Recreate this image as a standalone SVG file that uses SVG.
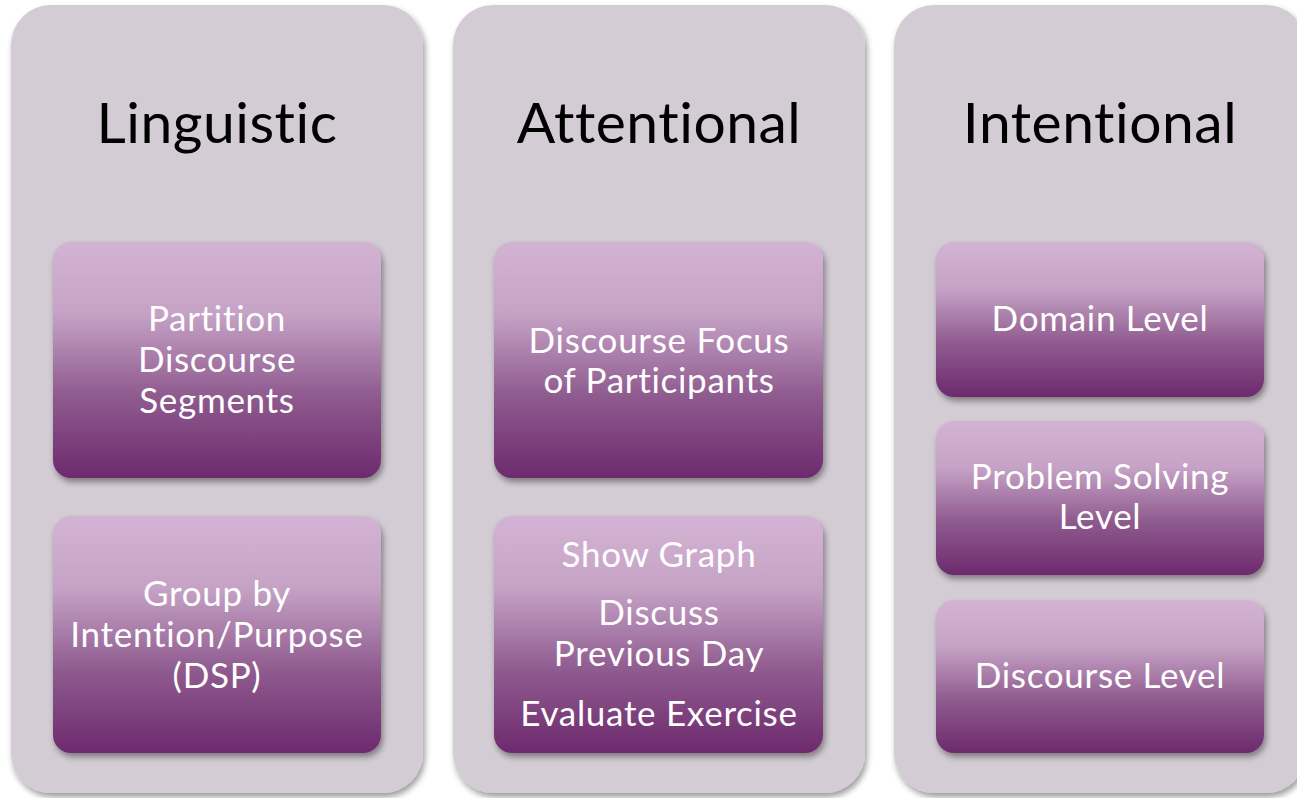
<svg xmlns="http://www.w3.org/2000/svg" width="1297" height="798" viewBox="0 0 1297 798">
<style>
.col{fill:#d3ccd4;}
.box{fill:url(#g);}
.h{font-family:Lato,"Open Sans",sans-serif;font-size:57px;fill:#000;text-anchor:middle;font-variant-ligatures:none;letter-spacing:0.5px;}
.t{font-family:Lato,"Open Sans",sans-serif;font-size:35px;fill:#fff;text-anchor:middle;font-variant-ligatures:none;letter-spacing:0.7px;}
</style>
<defs>
<linearGradient id="g" x1="0" y1="0" x2="0" y2="1">
<stop offset="0" stop-color="#d3b3d3"/>
<stop offset="0.3" stop-color="#c6a3c6"/>
<stop offset="0.65" stop-color="#8f5b8f"/>
<stop offset="1" stop-color="#6d2a6d"/>
</linearGradient>
<filter id="s" x="-10%" y="-10%" width="120%" height="120%">
<feGaussianBlur in="SourceAlpha" stdDeviation="3"/>
<feOffset dx="2" dy="4" result="b"/>
<feComponentTransfer><feFuncA type="linear" slope="0.4"/></feComponentTransfer>
<feMerge><feMergeNode/><feMergeNode in="SourceGraphic"/></feMerge>
</filter>
</defs>
<rect width="1297" height="798" fill="#fff"/>
<g id="col-linguistic">
<rect class="col" x="11" y="5" width="412" height="788" rx="40" filter="url(#s)"/>
<text class="h" x="217" y="143">Linguistic</text>
</g>
<g id="col-attentional">
<rect class="col" x="453" y="5" width="412" height="788" rx="40" filter="url(#s)"/>
<text class="h" x="659" y="143">Attentional</text>
</g>
<g id="col-intentional">
<rect class="col" x="894" y="5" width="412" height="788" rx="40" filter="url(#s)"/>
<text class="h" x="1100" y="143">Intentional</text>
</g>
<g id="n-partition">
<rect class="box" x="53" y="242" width="328" height="236" rx="18" filter="url(#s)"/>
<text class="t" x="217" y="331">Partition</text>
<text class="t" x="217" y="372">Discourse</text>
<text class="t" x="217" y="413">Segments</text>
</g>
<g id="n-group">
<rect class="box" x="53" y="516" width="328" height="237" rx="18" filter="url(#s)"/>
<text class="t" x="217" y="606">Group by</text>
<text class="t" x="217" y="647">Intention/Purpose</text>
<text class="t" x="217" y="688">(DSP)</text>
</g>
<g id="n-focus">
<rect class="box" x="494" y="242" width="329" height="236" rx="18" filter="url(#s)"/>
<text class="t" x="659" y="353">Discourse Focus</text>
<text class="t" x="659" y="393">of Participants</text>
</g>
<g id="n-show">
<rect class="box" x="494" y="516" width="329" height="237" rx="18" filter="url(#s)"/>
<text class="t" x="659" y="567">Show Graph</text>
<text class="t" x="659" y="625">Discuss</text>
<text class="t" x="659" y="666">Previous Day</text>
<text class="t" x="659" y="726">Evaluate Exercise</text>
</g>
<g id="n-domain">
<rect class="box" x="936" y="242" width="328" height="155" rx="18" filter="url(#s)"/>
<text class="t" x="1100" y="331">Domain Level</text>
</g>
<g id="n-problem">
<rect class="box" x="936" y="421" width="328" height="154" rx="18" filter="url(#s)"/>
<text class="t" x="1100" y="489">Problem Solving</text>
<text class="t" x="1100" y="529">Level</text>
</g>
<g id="n-discourse">
<rect class="box" x="936" y="600" width="328" height="153" rx="18" filter="url(#s)"/>
<text class="t" x="1100" y="688">Discourse Level</text>
</g>
<g id="connectors"/>
</svg>
